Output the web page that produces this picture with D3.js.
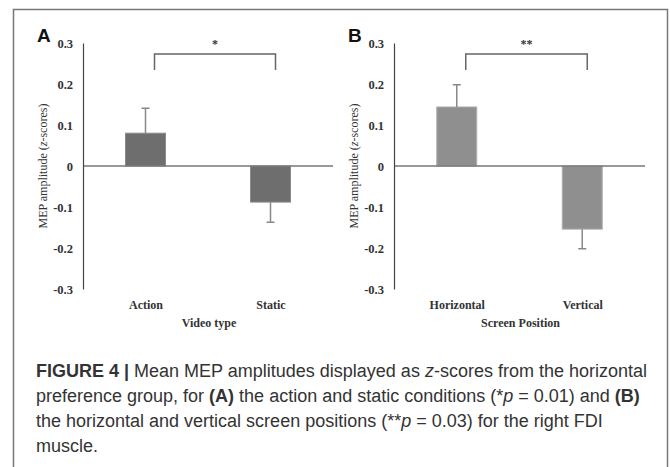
<!DOCTYPE html>
<html>
  <head>
    <meta charset="utf-8">
    <title>Figure 4 - MEP amplitudes</title>
<style>
  body { margin: 0; background-color: #fff; }
  svg { display: block; }
  .tick text { font-family: "Liberation Serif", "Times New Roman", serif; font-weight: bold; fill: #333; }
  .caption { font-family: "Liberation Sans", Arial, sans-serif; font-size: 18px; fill: #333; }
</style>
  </head>
  <body>
    <div id="viz"></div>

  <script src="https://cdn.jsdelivr.net/npm/d3@7"></script>
  <script>

    // values
    var yTicks = [-0.3, -0.2, -0.1, 0, 0.1, 0.2, 0.3]

    var catsA = ["Action", "Static"]
    var meanA = [0.080, -0.088]
    var seA   = [0.061, 0.049]

    var catsB = ["Horizontal", "Vertical"]
    var meanB = [0.144, -0.154]
    var seB   = [0.054, 0.048]

    var captionLines = [
      [["FIGURE 4 | ", "b"], ["Mean MEP amplitudes displayed as "], ["z", "i"], ["-scores from the horizontal"]],
      [["preference group, for "], ["(A)", "b"], [" the action and static conditions (*"], ["p", "i"], [" = 0.01) and "], ["(B)", "b"]],
      [["the horizontal and vertical screen positions (**"], ["p", "i"], [" = 0.03) for the right FDI"]],
      [["muscle."]]
    ]

    var W = 670, H = 467

    var svg = d3.select("#viz").append("svg")
        .attr("width", W)
        .attr("height", H)

    // frame round the figure (open at the bottom)
    svg.append("path")
        .attr("d", "M13.5," + H + "V9.5H667.5V" + H)
        .attr("fill", "none")
        .attr("stroke", "#777")
        .attr("stroke-width", 1.5)

    var y = d3.scaleLinear()
        .domain([-0.3, 0.3])
        .range([289, 43])

    var fmt = function(d) { return d === 0 ? "0" : d3.format(".1f")(d).replace("−", "-") }

    function panel(letter, left, right, cats, means, ses, fill, edge, xTitle, stars) {
      var g = svg.append("g")

      var x = d3.scalePoint()
          .domain(cats)
          .range([left, right])
          .padding(0.5)

      var bw = 40

      // bars
      g.selectAll(".bar")
          .data(cats)
        .enter().append("rect")
          .attr("class", "bar")
          .attr("x", function(d) { return x(d) - bw / 2 })
          .attr("width", bw)
          .attr("y", function(d, i) { return y(Math.max(0, means[i])) })
          .attr("height", function(d, i) { return Math.abs(y(means[i]) - y(0)) })
          .attr("fill", fill)
          .attr("stroke", edge)
          .attr("stroke-width", 1)

      // error bars (one-sided, away from zero)
      g.selectAll(".err")
          .data(cats)
        .enter().append("path")
          .attr("class", "err")
          .attr("d", function(d, i) {
            var s = means[i] >= 0 ? 1 : -1
            var cx = x(d), y0 = y(means[i]), y1 = y(means[i] + s * ses[i])
            return "M" + cx + "," + y0 + "V" + y1 + "M" + (cx - 4) + "," + y1 + "H" + (cx + 4)
          })
          .attr("fill", "none")
          .attr("stroke", "#888")
          .attr("stroke-width", 1.5)

      // zero line
      g.append("line")
          .attr("x1", left).attr("x2", right)
          .attr("y1", y(0)).attr("y2", y(0))
          .attr("stroke", "#777")
          .attr("stroke-width", 1.5)

      // y axis
      var ya = g.append("g")
          .attr("transform", "translate(" + left + ",0)")
          .call(d3.axisLeft(y).tickValues(yTicks).tickFormat(fmt).tickSize(0).tickPadding(10))
      ya.select(".domain").attr("stroke", "#444").attr("stroke-width", 1.2)
      ya.selectAll("text").attr("font-size", 12.5)

      // category labels
      var xa = g.append("g")
          .attr("transform", "translate(0," + y(-0.3) + ")")
          .call(d3.axisBottom(x).tickSize(0).tickPadding(11))
      xa.select(".domain").remove()
      xa.selectAll("text").attr("font-size", 12)

      g.append("text")
          .attr("x", (left + right) / 2 + 1)
          .attr("y", 327)
          .attr("text-anchor", "middle")
          .attr("font-family", '"Liberation Serif", "Times New Roman", serif')
          .attr("font-weight", "bold")
          .attr("font-size", 12)
          .attr("fill", "#333")
          .text(xTitle)

      g.append("text")
          .attr("transform", "translate(" + (left - 36) + "," + y(0) + ") rotate(-90)")
          .attr("text-anchor", "middle")
          .attr("font-family", '"Liberation Serif", "Times New Roman", serif')
          .attr("font-size", 12)
          .attr("fill", "#333")
          .selectAll("tspan")
          .data([["MEP amplitude (", "normal"], ["z", "italic"], ["-scores)", "normal"]])
        .enter().append("tspan")
          .attr("font-style", function(d) { return d[1] })
          .text(function(d) { return d[0] })

      // significance bracket
      var bx0 = x(cats[0]) + 9, bx1 = x(cats[1]) + 5
      g.append("path")
          .attr("d", "M" + bx0 + "," + y(0.234) + "V" + y(0.273) + "H" + bx1 + "V" + y(0.234))
          .attr("fill", "none")
          .attr("stroke", "#666")
          .attr("stroke-width", 1.5)

      g.append("text")
          .attr("x", (bx0 + bx1) / 2)
          .attr("y", 48)
          .attr("text-anchor", "middle")
          .attr("font-family", '"Liberation Serif", "Times New Roman", serif')
          .attr("font-weight", "bold")
          .attr("font-size", 12)
          .attr("fill", "#333")
          .text(stars)

      // panel letter
      g.append("text")
          .attr("x", left - 46)
          .attr("y", 42)
          .attr("font-family", '"Liberation Sans", Arial, sans-serif')
          .attr("font-weight", "bold")
          .attr("font-size", 19)
          .attr("fill", "#111")
          .text(letter)
    }

    panel("A", 83, 333, catsA, meanA, seA, "#6e6e6e", "#8a8a8a", "Video type", "*")
    panel("B", 394, 645, catsB, meanB, seB, "#8f8f8f", "#b0b0b0", "Screen Position", "**")

    // caption
    var cap = svg.append("text")
        .attr("class", "caption")

    cap.selectAll("tspan.line")
        .data(captionLines)
      .enter().append("tspan")
        .attr("class", "line")
        .attr("x", 36)
        .attr("y", function(d, i) { return 377 + i * 25 })
        .each(function(parts) {
          d3.select(this).selectAll("tspan")
              .data(parts)
            .enter().append("tspan")
              .attr("font-weight", function(p) { return p[1] === "b" ? "bold" : null })
              .attr("font-style", function(p) { return p[1] === "i" ? "italic" : null })
              .text(function(p) { return p[0] })
        })

  </script>
  </body>
</html>
